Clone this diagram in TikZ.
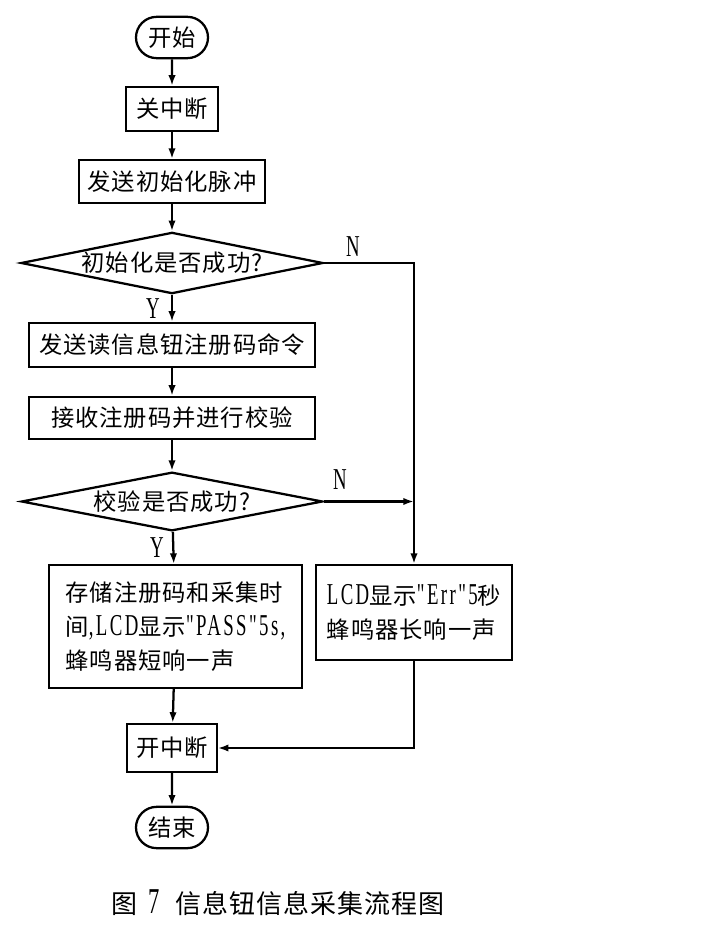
\documentclass[tikz,border=0pt]{standalone}
\usepackage{fontspec}
\setmainfont{Liberation Serif}
\newfontfamily\cjk[LetterSpace=4]{Noto Sans CJK SC}
\newfontfamily\lat[FakeStretch=0.62,Scale=1.3,LetterSpace=8]{Liberation Serif}
\newcommand{\en}[1]{{\lat #1}}
\newcommand{\zerobox}[1]{\makebox[0pt]{#1}}
\usetikzlibrary{arrows.meta,shapes.geometric,shapes.misc}

\tikzset{every picture/.style={line width=1.7pt}}
\tikzset{
	chart text/.style={font=\cjk\fontsize{17.5}{25.5}\selectfont},
	terminal/.style={draw, rounded rectangle, inner sep=0pt, minimum width=54pt, minimum height=31pt, chart text},
	process/.style={draw, rectangle, inner sep=0pt, align=left, chart text},
	decision/.style={draw, diamond, inner sep=0pt, chart text},
	flow/.style={-{Latex[length=8pt,width=5.5pt]}},
	yn/.style={font=\lat\fontsize{17.5}{17.5}\selectfont}}

\begin{document}
\begin{tikzpicture}[x=0.75pt,y=0.75pt,yscale=-1,xscale=1]
	\useasboundingbox (0,0) rectangle (708,931);

	%Shape: Terminals
	\node [terminal] (start) at (172,37.5) {开始};
	\node [terminal] (end) at (172,827.5) {结束};
	%Shape: Rectangles
	\node [process, minimum width=69pt, minimum height=33pt] (off) at (172,109) {关中断};
	\node [process, minimum width=139pt, minimum height=32pt] (pulse) at (172,181.5) {发送初始化脉冲};
	\node [process, minimum width=214pt, minimum height=33pt] (read) at (172,345) {发送读信息钮注册码命令};
	\node [process, minimum width=214pt, minimum height=31.5pt] (recv) at (172,418) {接收注册码并进行校验};
	\node [process, minimum width=190pt, minimum height=92pt] (store) at (175.5,626.5) {存储注册码和采集时\\间\en{,LCD}显示\en{"PASS"5s,}\\蜂鸣器短响一声};
	\node [process, minimum width=147pt, minimum height=71pt] (err) at (414,612.5) {\en{LCD}显示\en{"Err"5}秒\\蜂鸣器长响一声};
	\node [process, minimum width=67pt, minimum height=36pt] (on) at (172,748) {开中断};
	%Shape: Diamonds
	\node [decision, minimum width=226.5pt, minimum height=46pt] (check1) at (172,263) {\zerobox{初始化是否成功?}};
	\node [decision, minimum width=226pt, minimum height=44pt] (check2) at (172,501.5) {\zerobox{校验是否成功?}};

	%Straight Lines
	\draw [flow] (start) -- (off);
	\draw [flow] (off) -- (pulse);
	\draw [flow] (pulse) -- (check1);
	\draw [flow] (check1) -- (read);
	\draw [flow] (read) -- (recv);
	\draw [flow] (recv) -- (check2);
	\draw [flow] (check2) -- (store);
	\draw [flow] (store) -- (on);
	\draw [flow] (on) -- (end);
	\draw [flow] (check1.east) -- (check1.east -| err.north) -- (err.north);
	\draw [flow] (check2.east) -- (check2.east -| err.north);
	\draw [flow] (err.south) |- (on.east);

	% Text Node
	\node [yn] (n1) at (353,247) {N};
	\node [yn] (y1) at (153,309) {Y};
	\node [yn] (n2) at (340,480) {N};
	\node [yn] (y2) at (157,548) {Y};
	% Text Node
	\node [font=\cjk\fontsize{19.5}{20}\selectfont] (caption) at (278,903) {图\hspace{8pt}{\lat\fontsize{21}{21}\selectfont 7}\hspace{12pt}信息钮信息采集流程图};

\end{tikzpicture}
\end{document}
